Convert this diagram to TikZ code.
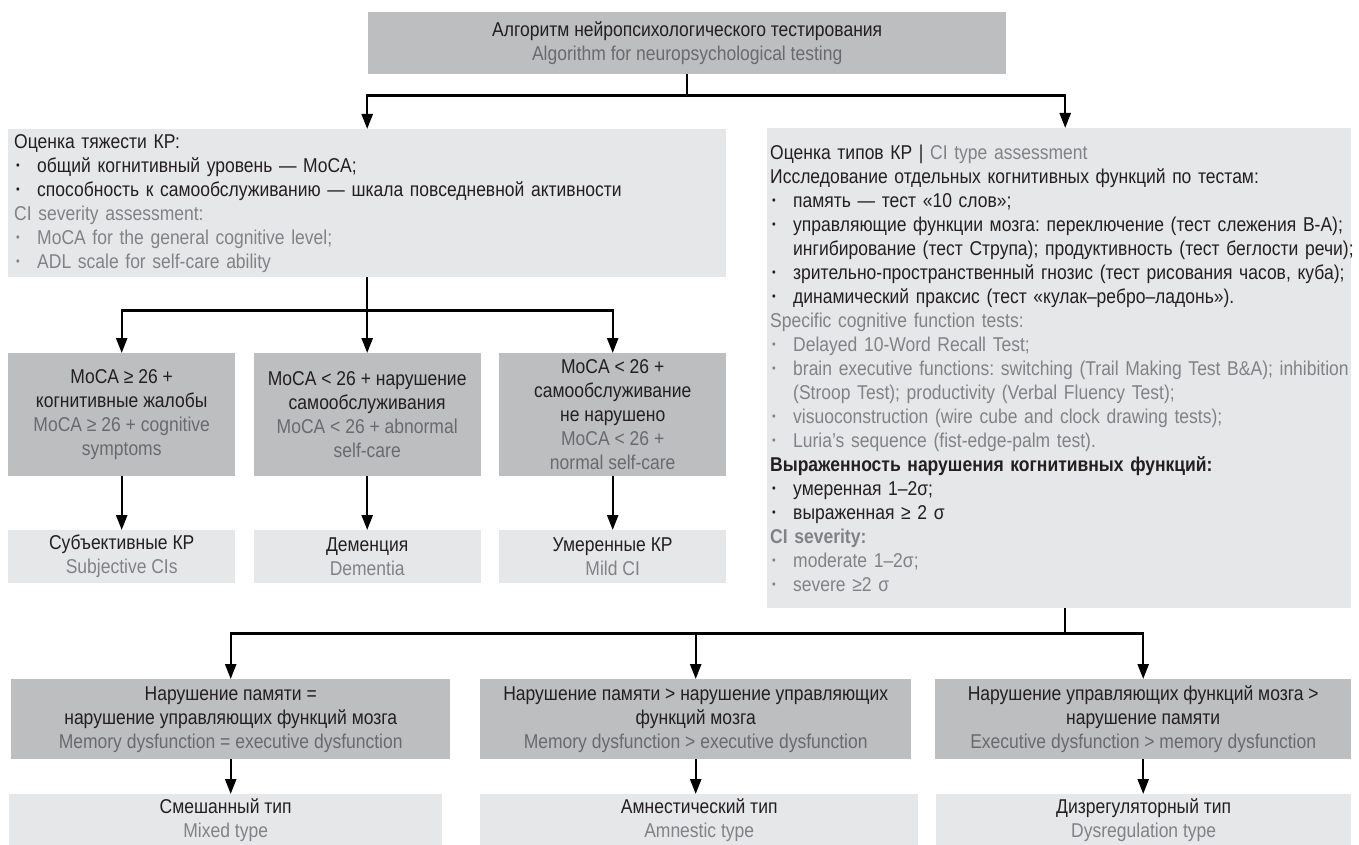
\documentclass[tikz,border=0pt]{standalone}
\usepackage{fontspec}
\setmainfont[FakeStretch=0.875]{Liberation Sans}
\usetikzlibrary{arrows.meta}
\definecolor{boxdark}{RGB}{188,190,192}
\definecolor{boxlight}{RGB}{230,231,232}
\definecolor{engray}{RGB}{128,130,133}
\definecolor{endark}{RGB}{105,106,109}
\definecolor{txt}{RGB}{35,31,32}
\newcommand\myfs{\fontsize{20}{24}\selectfont\frenchspacing}
\newcommand\engl[1]{\textcolor{engray}{#1}}
\newcommand\engld[1]{\textcolor{endark}{#1}}
\newcommand\bul{\makebox[23pt][l]{\hspace{2pt}\raisebox{2.6pt}{\scalebox{0.6}{•}}}}
\newcommand\ind{\hspace*{23pt}}
\newcommand\oneline[1]{\makebox[0pt][l]{#1}}
\begin{document}
\begin{tikzpicture}[x=1pt,y=-1pt,
  darkbox/.style={fill=boxdark, draw=none, inner sep=0pt, align=center, font=\myfs, text=txt, anchor=north west},
  lightbox/.style={fill=boxlight, draw=none, inner sep=0pt, align=center, font=\myfs, text=txt, anchor=north west},
  listbox/.style={fill=boxlight, draw=none, inner ysep=0pt, align=left, font=\myfs, text=txt, anchor=north west},
  conn/.style={line width=2.4pt, draw=black},
  arr/.style={conn, -{Triangle[width=11pt,length=15pt]}}]
\fill[white] (0,0) rectangle (1359,845);
\useasboundingbox (0,0) rectangle (1359,845);

% top
\node[darkbox, minimum width=638pt, minimum height=62pt] (top) at (368,12)
  {Алгоритм нейропсихологического тестирования\\\engld{Algorithm for neuropsychological testing}};

% left list box
\node[listbox, inner xsep=6pt, text width=706pt, minimum height=148pt] (sev) at (8,129)
  {Оценка тяжести КР:\\
   \bul общий когнитивный уровень — MoCA;\\
   \bul способность к самообслуживанию — шкала повседневной активности\\
   \engl{CI severity assessment:}\\
   \engl{\bul MoCA for the general cognitive level;}\\
   \engl{\bul ADL scale for self-care ability}};

% right list box
\node[listbox, inner xsep=3pt, text width=578pt, minimum height=480pt] (typ) at (767,128)
  {Оценка типов КР | \engl{CI type assessment}\\
   Исследование отдельных когнитивных функций по тестам:\\
   \bul память — тест «10 слов»;\\
   \oneline{\bul управляющие функции мозга: переключение (тест слежения В-А);}\\
   \oneline{\ind ингибирование (тест Струпа); продуктивность (тест беглости речи);}\\
   \oneline{\bul зрительно-пространственный гнозис (тест рисования часов, куба);}\\
   \bul динамический праксис (тест «кулак–ребро–ладонь»).\\
   \engl{Specific cognitive function tests:}\\
   \engl{\bul Delayed 10-Word Recall Test;}\\
   \oneline{\engl{\bul brain executive functions: switching (Trail Making Test B\&A); inhibition}}\\
   \engl{\ind (Stroop Test); productivity (Verbal Fluency Test);}\\
   \engl{\bul visuoconstruction (wire cube and clock drawing tests);}\\
   \engl{\bul Luria's sequence (fist-edge-palm test).}\\
   \textbf{Выраженность нарушения когнитивных функций:}\\
   \bul умеренная 1–2σ;\\
   \bul выраженная ≥ 2 σ\\
   \engl{\textbf{CI severity:}}\\
   \engl{\bul moderate 1–2σ;}\\
   \engl{\bul severe ≥2 σ}};

% middle boxes
\node[darkbox, minimum width=227pt, minimum height=123pt] (m1) at (8,353)
  {MoCA ≥ 26 +\\когнитивные жалобы\\\engld{MoCA ≥ 26 + cognitive}\\\engld{symptoms}};
\node[darkbox, minimum width=227pt, minimum height=123pt] (m2) at (253.5,353)
  {MoCA < 26 + нарушение\\самообслуживания\\\engld{MoCA < 26 + abnormal}\\\engld{self-care}};
\node[darkbox, minimum width=227pt, minimum height=123pt] (m3) at (499,353)
  {MoCA < 26 +\\самообслуживание\\не нарушено\\\engld{MoCA < 26 +}\\\engld{normal self-care}};

% first results
\node[lightbox, minimum width=227pt, minimum height=53pt] (r1) at (8,530)
  {Субъективные КР\\\engl{Subjective CIs}};
\node[lightbox, minimum width=227pt, minimum height=53pt] (r2) at (253.5,530)
  {Деменция\\\engl{Dementia}};
\node[lightbox, minimum width=227pt, minimum height=53pt] (r3) at (499,530)
  {Умеренные КР\\\engl{Mild CI}};

% bottom row
\node[darkbox, minimum width=439pt, minimum height=80pt] (b1) at (11,679)
  {Нарушение памяти =\\нарушение управляющих функций мозга\\\engld{Memory dysfunction = executive dysfunction}};
\node[darkbox, minimum width=431pt, minimum height=80pt] (b2) at (480,679)
  {Нарушение памяти > нарушение управляющих\\функций мозга\\\engld{Memory dysfunction > executive dysfunction}};
\node[darkbox, minimum width=416pt, minimum height=80pt] (b3) at (935,679)
  {Нарушение управляющих функций мозга >\\нарушение памяти\\\engld{Executive dysfunction > memory dysfunction}};

% final types
\node[lightbox, minimum width=433pt, minimum height=51pt] (t1) at (9,794)
  {Смешанный тип\\\engl{Mixed type}};
\node[lightbox, minimum width=438pt, minimum height=51pt] (t2) at (480,794)
  {Амнестический тип\\\engl{Amnestic type}};
\node[lightbox, minimum width=415pt, minimum height=51pt] (t3) at (936,794)
  {Дизрегуляторный тип\\\engl{Dysregulation type}};

% connectors: top
\path (top.south) ++(0,21) coordinate (j1);
\draw[conn] (top.south) -- (j1);
\draw[arr] (j1) -| (sev.north);
\draw[arr] (j1) -| ([xshift=6pt]typ.north);

% connectors: severity
\path (sev.south) ++(0,33) coordinate (j2);
\draw[conn] (sev.south) -- (j2);
\draw[arr] (j2) -| (m1.north);
\draw[arr] (j2) -- (m2.north);
\draw[arr] (j2) -| (m3.north);
\draw[arr] (m1.south) -- (r1.north);
\draw[arr] (m2.south) -- (r2.north);
\draw[arr] (m3.south) -- (r3.north);

% connectors: types
\path ([xshift=6pt]typ.south) ++(0,25) coordinate (j3);
\draw[conn] ([xshift=6pt]typ.south) -- (j3);
\draw[arr] (j3) -| (b1.north);
\draw[arr] (j3) -| (b2.north);
\draw[arr] (j3) -| (b3.north);
\draw[arr] (b1.south) -- (b1.south |- t1.north);
\draw[arr] (b2.south) -- (b2.south |- t2.north);
\draw[arr] (b3.south) -- (b3.south |- t3.north);
\end{tikzpicture}
\end{document}
